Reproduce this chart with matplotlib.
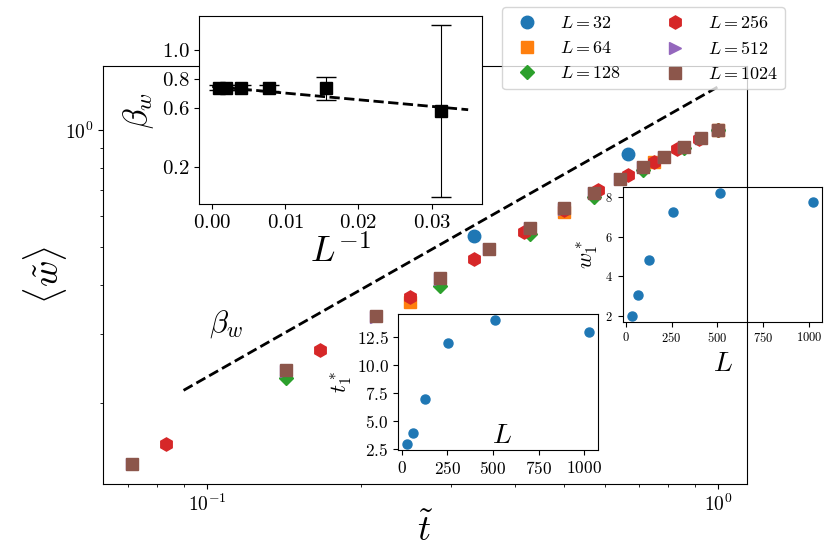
import matplotlib.pyplot as plt
import numpy as np

plt.rcParams['font.family'] = 'serif'
plt.rcParams['font.serif'] = ['cmr10']
plt.rcParams['mathtext.fontset'] = 'cm'
plt.rcParams['axes.formatter.use_mathtext'] = True

# collapsed curves, <w>/w1* against t/t1*
t_32 = [0.3333, 0.6667, 1.0]
w_32 = [0.535, 0.868, 1.0]
t_64 = [0.25, 0.5, 0.75, 1.0]
w_64 = [0.362, 0.616, 0.828, 1.0]
t_128 = [0.1429, 0.2857, 0.4286, 0.5714, 0.7143, 0.8571, 1.0]
w_128 = [0.231, 0.398, 0.541, 0.673, 0.790, 0.899, 1.0]
t_256 = [0.0833, 0.1667, 0.25, 0.3333, 0.4167, 0.5, 0.5833, 0.6667,
         0.75, 0.8333, 0.9167, 1.0]
w_256 = [0.157, 0.273, 0.373, 0.467, 0.547, 0.622, 0.702, 0.767,
         0.828, 0.894, 0.948, 1.0]
t_512 = [0.0714, 0.1429, 0.2143, 0.2857, 0.3571, 0.4286, 0.5, 0.5714,
         0.6429, 0.7143, 0.7857, 0.8571, 0.9286, 1.0]
w_512 = [0.139, 0.241, 0.332, 0.415, 0.494, 0.559, 0.629, 0.688,
         0.747, 0.802, 0.852, 0.904, 0.953, 1.0]
t_1024 = [0.0714, 0.1429, 0.2143, 0.2857, 0.3571, 0.4286, 0.5, 0.5714,
          0.6429, 0.7143, 0.7857, 0.8571, 0.9286, 1.0]
w_1024 = [0.139, 0.242, 0.334, 0.417, 0.495, 0.561, 0.631, 0.689,
          0.749, 0.804, 0.853, 0.905, 0.954, 1.0]

# power-law guide
guide_t = [0.09, 1.0]
guide_w = [0.215, 1.29]

# exponent vs 1/L
L_inv = [1/1024, 1/512, 1/256, 1/128, 1/64, 1/32]
beta_w = [0.74, 0.74, 0.74, 0.74, 0.735, 0.58]
beta_err = [0.015, 0.015, 0.015, 0.02, 0.077, 0.585]
fit_x = [0.0, 0.035]
fit_y = [0.748, 0.589]

# scaling factors
L_vals = [32, 64, 128, 256, 512, 1024]
t_star = [3, 4, 7, 12, 14, 13]
w_star = [2.0, 3.03, 4.83, 7.24, 8.19, 7.75]

fig = plt.figure(figsize=(8.3, 5.54), dpi=100)
ax = fig.add_axes([0.1241, 0.1264, 0.7759, 0.7545])

ax.plot(t_32, w_32, 'o', color='C0', ms=9, ls='none', label=r'$L=32$')
ax.plot(t_64, w_64, 's', color='C1', ms=9, ls='none', label=r'$L=64$')
ax.plot(t_128, w_128, 'D', color='C2', ms=7.5, ls='none', label=r'$L=128$')
ax.plot(t_256, w_256, 'h', color='C3', ms=9.5, ls='none', label=r'$L=256$')
ax.plot(t_512, w_512, '>', color='C4', ms=8, ls='none', label=r'$L=512$')
ax.plot(t_1024, w_1024, 's', color='C5', ms=9, ls='none', label=r'$L=1024$')
ax.plot(guide_t, guide_w, '--', color='k', lw=2)
ax.text(0.109, 0.318, r'$\beta_w$', fontsize=22, ha='center', va='center')

ax.set_xscale('log')
ax.set_yscale('log')
ax.set_xlim(0.0626, 1.14)
ax.set_ylim(0.1237, 1.459)
ax.tick_params(labelsize=14)
ax.set_xlabel(r'$\tilde{t}$', fontsize=26, labelpad=-2)
ax.set_ylabel(r'$\langle \tilde{w} \rangle$', fontsize=26, labelpad=-3)
ax.legend(ncol=2, loc='upper right', bbox_to_anchor=(785/830, 547/554),
          bbox_transform=fig.transFigure, borderaxespad=0, fontsize=13,
          numpoints=1)

# inset: beta_w against 1/L
ax1 = fig.add_axes([0.2398, 0.6318, 0.341, 0.339])
ax1.errorbar(L_inv, beta_w, yerr=beta_err, fmt='s', color='k', ms=8,
             ecolor='k', elinewidth=0.8, capsize=7, capthick=1)
ax1.plot(fit_x, fit_y, '--', color='k', lw=2)
ax1.set_xlim(-0.0018, 0.0369)
ax1.set_ylim(-0.055, 1.228)
ax1.set_xticks([0, 0.01, 0.02, 0.03])
ax1.set_yticks([0.2, 0.6, 0.8, 1.0])
ax1.tick_params(labelsize=15)
ax1.set_xlabel(r'$L^{-1}$', fontsize=26, labelpad=2)
ax1.set_ylabel(r'$\beta_w$', fontsize=24)

# inset: t1* against L
ax2 = fig.add_axes([0.4799, 0.1877, 0.2402, 0.2450])
ax2.plot(L_vals, t_star, 'o', color='C0', ms=6.5)
ax2.tick_params(labelsize=12.5)
ax2.set_xticks([0, 250, 500, 750, 1000])
ax2.set_yticks([2.5, 5.0, 7.5, 10.0, 12.5])
ax2.set_xlabel(r'$L$', fontsize=20)
ax2.xaxis.set_label_coords(0.52, 0.20)
ax2.set_ylabel(r'$t_1^*$', fontsize=16, labelpad=2)

# inset: w1* against L
ax3 = fig.add_axes([0.7502, 0.4193, 0.2405, 0.2426], facecolor='none')
ax3.plot(L_vals, w_star, 'o', color='C0', ms=6.5)
ax3.tick_params(labelsize=9)
ax3.set_xticks([0, 250, 500, 750, 1000])
ax3.set_yticks([2, 4, 6, 8])
ax3.set_xlabel(r'$L$', fontsize=20)
ax3.set_ylabel(r'$w_1^*$', fontsize=16)

fig.savefig('out.png', dpi=100)
